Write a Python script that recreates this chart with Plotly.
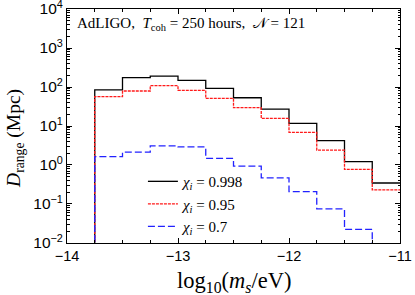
import plotly.graph_objects as go

# bin edges (log10 m_s / eV)
edges = [-13.75, -13.5, -13.25, -13.0, -12.75, -12.5, -12.25, -12.0, -11.75, -11.5, -11.25, -11.0]
# D_range (Mpc) per bin
d_0998 = [84, 173, 191, 148, 92, 53, 27, 11.7, 4.2, 1.22, 0.345]
d_095 = [56.5, 79, 108, 82, 51, 29.5, 15.7, 6.9, 2.4, 0.77, 0.23]
d_07 = [1.64, 2.15, 3.1, 2.9, 1.48, 0.94, 0.47, 0.207, 0.0745, 0.0224]
FLOOR = 1e-3  # baseline below the axis range

labels = ["<i>χ<sub>i</sub></i> = 0.998", "<i>χ<sub>i</sub></i> = 0.95", "<i>χ<sub>i</sub></i> = 0.7"]
y_tickvals = [1e-2, 1e-1, 1e0, 1e1, 1e2, 1e3, 1e4]
y_ticktext = ["10<sup>−2</sup>", "10<sup>−1</sup>", "10<sup>0</sup>", "10<sup>1</sup>",
              "10<sup>2</sup>", "10<sup>3</sup>", "10<sup>4</sup>"]

def step_xy(vals):
    n = len(vals)
    xs = [edges[0]] + edges[:n] + [edges[n]]
    last = vals[-1] if n == len(edges) - 1 else FLOOR
    ys = [FLOOR] + list(vals) + [last]
    return xs, ys

serif = "Liberation Serif"
sans = "Liberation Sans"

fig = go.Figure()
styles = [dict(color="black", width=1.3),
          dict(color="#ff1a1a", width=1.3, dash="3px,1px"),
          dict(color="#2222ff", width=1.3, dash="7px,3px")]
for vals, lab, st in zip([d_0998, d_095, d_07], labels, styles):
    xs, ys = step_xy(vals)
    fig.add_trace(go.Scatter(x=xs, y=ys, mode="lines", line=dict(shape="hv", **st), name=lab))

axis_common = dict(showline=True, linecolor="black", linewidth=1, mirror="allticks",
                   ticks="inside", tickcolor="black", showgrid=False, zeroline=False,
                   automargin=False, ticklabeloverflow="allow")

fig.update_xaxes(range=[-14, -11], dtick=1, ticklen=5,
                 tickfont=dict(family=sans, size=14.5, color="black"),
                 minor=dict(dtick=0.25, ticks="inside", ticklen=3, tickcolor="black", showgrid=False),
                 **axis_common)
fig.update_yaxes(type="log", range=[-2.0005, 4.0005], tickmode="array",
                 tickvals=y_tickvals, ticktext=y_ticktext, ticklen=5,
                 tickfont=dict(family=sans, size=15.5, color="black"),
                 minor=dict(dtick="D1", ticks="inside", ticklen=2.5, tickcolor="black", showgrid=False),
                 **axis_common)

fig.add_annotation(text="log<sub>10</sub>(<i>m<sub>s</sub></i>/eV)",
                   xref="paper", yref="paper", x=0.5, y=-0.165, xanchor="center", yanchor="middle",
                   showarrow=False, font=dict(family=serif, size=22.5, color="black"))

fig.add_annotation(text="<i>D</i><sub>range</sub> (Mpc)", textangle=-90,
                   xref="paper", yref="paper", x=-0.156, y=0.445, xanchor="center", yanchor="middle",
                   showarrow=False, font=dict(family=serif, size=19.5, color="black"))

fig.add_annotation(text="AdLIGO,  <i>T</i><sub>coh</sub> = 250 hours,  𝒩 = 121",
                   xref="paper", yref="paper", x=0.025, y=0.935, xanchor="left", yanchor="middle",
                   showarrow=False, font=dict(family=serif, size=15, color="black"))

fig.update_layout(width=415, height=295, margin=dict(l=67, r=15, t=9, b=52),
                  plot_bgcolor="white", paper_bgcolor="white",
                  legend=dict(x=0.228, y=0.333, xanchor="left", yanchor="top",
                              bgcolor="rgba(0,0,0,0)", tracegroupgap=0,
                              font=dict(family=serif, size=15, color="black")),
                  showlegend=True)

fig.write_html("out.html", config={"displayModeBar": False},
               post_script="document.body.style.margin='0px';")
